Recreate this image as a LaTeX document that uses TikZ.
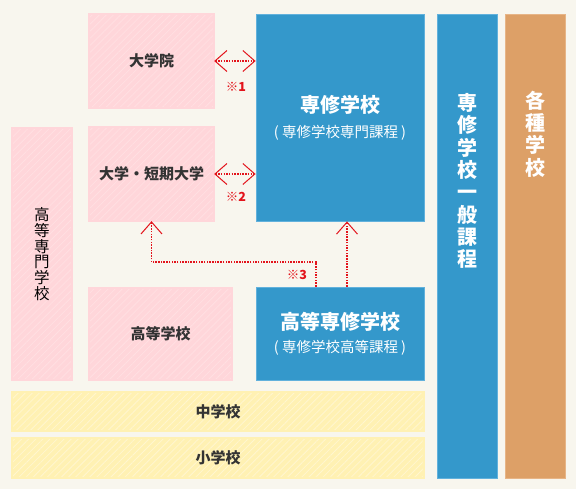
\documentclass[tikz,border=0pt]{standalone}
\usepackage{fontspec}
\setmainfont{Noto Sans CJK JP}
\usepackage{tikz}
\usetikzlibrary{arrows.meta, patterns.meta, positioning}

\definecolor{bgcream}{HTML}{F8F6EE}
\definecolor{pinkfill}{HTML}{FFD6DA}
\definecolor{pinkline}{HTML}{FFDFE2}
\definecolor{yelfill}{HTML}{FFF1B3}
\definecolor{yelline}{HTML}{FFF6CF}
\definecolor{schblue}{HTML}{3498CB}
\definecolor{blueedge}{HTML}{62B1DC}
\definecolor{schorange}{HTML}{DDA067}
\definecolor{orangeedge}{HTML}{E7B587}
\definecolor{arrred}{HTML}{E3131B}
\definecolor{textdark}{HTML}{333333}

\begin{document}
\begin{tikzpicture}[x=1pt, y=-1pt,
    pinkbox/.style={rectangle, fill=pinkfill, text=textdark, inner sep=0pt,
                    font=\bfseries\fontsize{15}{16}\selectfont,
                    postaction={pattern={Lines[angle=45,distance=5pt,line width=0.8pt]}, pattern color=pinkline},
                    postaction={draw=pinkfill, line width=1.5pt}},
    yelbox/.style={rectangle, fill=yelfill, text=textdark, inner sep=0pt,
                   minimum width=412pt, font=\bfseries\fontsize{15}{16}\selectfont,
                   postaction={pattern={Lines[angle=45,distance=5pt,line width=0.8pt]}, pattern color=yelline},
                   postaction={draw=yelfill, line width=1.5pt}},
    bluebox/.style={rectangle, fill=schblue, draw=blueedge, line width=0.8pt,
                    text=white, inner sep=0pt, align=center,
                    font=\fontsize{14.5}{17}\selectfont},
    colbox/.style={rectangle, line width=0.8pt, minimum width=60pt, minimum height=464pt},
    vtext/.style={align=center, text=white, inner sep=0pt,
                  font=\bfseries\fontsize{20}{22.3}\selectfont},
    note/.style={text=arrred, inner sep=0pt, font=\bfseries\fontsize{12.5}{12.5}\selectfont},
    barb/.tip={Straight Barb[length=12pt, width=21pt, line width=1pt]},
    arr/.style={draw=arrred, line width=1.5pt, dash pattern=on 1.5pt off 1.2pt, -{barb}},
    dblarr/.style={arr, {barb}-{barb}}
]
% background
\fill[bgcream] (0,0) rectangle (576,489);
\useasboundingbox (0,0) rectangle (576,489);

% pink schools
\node (grad)    [pinkbox, minimum width=125pt, minimum height=94pt] at (151.5,61) {大学院};
\node (univ)    [pinkbox, minimum width=125pt, minimum height=94pt] at (151.5,174) {大学・短期大学};
\node (high)    [pinkbox, minimum width=143pt, minimum height=92pt] at (160.5,334) {高等学校};
\node (kosen)   [pinkbox, minimum width=60pt, minimum height=252pt, align=center, text=black,
                 font=\fontsize{15.5}{15.7}\selectfont] at (42,254) {高\\等\\専\\門\\学\\校};

% compulsory
\node (middle)  [yelbox, minimum height=39pt] at (218,411.5) {中学校};
\node (primary) [yelbox, minimum height=40pt] at (218,458) {小学校};

% senshu gakko
\node (senmon)  [bluebox, minimum width=168pt, minimum height=207pt] at (340,117.5)
    {{\bfseries\fontsize{20}{24}\selectfont 専修学校}\\[8pt]( 専修学校専門課程 )};
\node (kotosen) [bluebox, minimum width=168pt, minimum height=93pt] at (340,333.5)
    {{\bfseries\fontsize{20}{24}\selectfont 高等専修学校}\\[6pt]( 専修学校高等課程 )};

% columns
\node (ippan)   [colbox, fill=schblue, draw=blueedge] at (467,246) {};
\node (kakushu) [colbox, fill=schorange, draw=orangeedge] at (535,246) {};
\node (ippantxt)   [vtext] at (467,181) {専\\修\\学\\校\\一\\般\\課\\程};
\node (kakushutxt) [vtext] at (535,134) {各\\種\\学\\校};

% notes
\node (n1) [note] at (236,87)  {※1};
\node (n2) [note] at (236,197) {※2};
\node (n3) [note] at (297,275) {※3};

% arrows
\draw [dblarr] (grad.east) -- (grad.east -| senmon.west);
\draw [dblarr] (univ.east) -- (univ.east -| senmon.west);
\draw [arr] ([xshift=7pt]kotosen.north) -- ([xshift=7pt]senmon.south);
\path (univ.south) ++(0,41) coordinate (turn);
\draw [arr] ([xshift=-24pt]kotosen.north) |- (turn) -- (univ.south);
\end{tikzpicture}
\end{document}
